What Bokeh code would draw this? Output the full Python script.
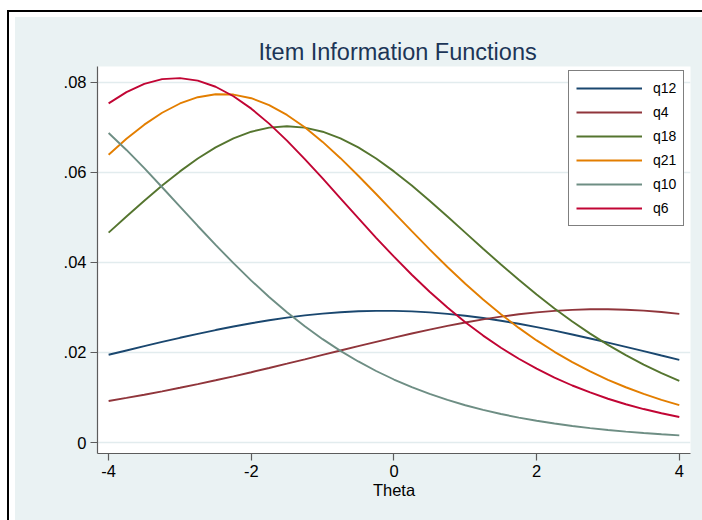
from bokeh.plotting import figure
from bokeh.models import FixedTicker, Legend, LegendItem, Title, Range1d
from bokeh.embed import file_html
from bokeh.resources import INLINE

# ---- data ----
theta = [-4.0, -3.75, -3.5, -3.25, -3.0, -2.75, -2.5, -2.25, -2.0, -1.75, -1.5, -1.25,
         -1.0, -0.75, -0.5, -0.25, 0.0, 0.25, 0.5, 0.75, 1.0, 1.25, 1.5, 1.75,
         2.0, 2.25, 2.5, 2.75, 3.0, 3.25, 3.5, 3.75, 4.0]

q12 = [0.01948, 0.02044, 0.02139, 0.02233, 0.02325, 0.02413, 0.02497, 0.02576, 0.02649, 0.02714,
       0.02773, 0.02822, 0.02862, 0.02893, 0.02913, 0.02923, 0.02922, 0.02911, 0.02889, 0.02857,
       0.02815, 0.02764, 0.02704, 0.02637, 0.02563, 0.02484, 0.02399, 0.02310, 0.02218, 0.02124,
       0.02029, 0.01932, 0.01836]
q4 = [0.00922, 0.00990, 0.01061, 0.01136, 0.01215, 0.01297, 0.01382, 0.01470, 0.01561, 0.01655,
      0.01750, 0.01847, 0.01945, 0.02043, 0.02140, 0.02236, 0.02330, 0.02421, 0.02508, 0.02589,
      0.02665, 0.02734, 0.02795, 0.02847, 0.02890, 0.02923, 0.02946, 0.02958, 0.02959, 0.02949,
      0.02929, 0.02898, 0.02857]
q18 = [0.04660, 0.05017, 0.05368, 0.05705, 0.06020, 0.06305, 0.06552, 0.06752, 0.06901, 0.06992,
       0.07023, 0.06992, 0.06901, 0.06752, 0.06552, 0.06305, 0.06020, 0.05705, 0.05368, 0.05017,
       0.04660, 0.04303, 0.03952, 0.03612, 0.03286, 0.02977, 0.02688, 0.02418, 0.02169, 0.01940,
       0.01731, 0.01542, 0.01370]
q21 = [0.06388, 0.06743, 0.07058, 0.07322, 0.07528, 0.07667, 0.07734, 0.07726, 0.07645, 0.07492,
       0.07274, 0.06998, 0.06675, 0.06313, 0.05924, 0.05518, 0.05105, 0.04692, 0.04288, 0.03897,
       0.03525, 0.03175, 0.02848, 0.02545, 0.02267, 0.02014, 0.01785, 0.01578, 0.01393, 0.01227,
       0.01079, 0.00948, 0.00832]
q10 = [0.06871, 0.06496, 0.06091, 0.05668, 0.05238, 0.04808, 0.04388, 0.03982, 0.03595, 0.03232,
       0.02894, 0.02581, 0.02295, 0.02035, 0.01800, 0.01588, 0.01399, 0.01230, 0.01079, 0.00946,
       0.00828, 0.00725, 0.00633, 0.00553, 0.00482, 0.00421, 0.00367, 0.00319, 0.00278, 0.00242,
       0.00211, 0.00183, 0.00159]
q6 = [0.07530, 0.07781, 0.07963, 0.08068, 0.08092, 0.08035, 0.07899, 0.07689, 0.07413, 0.07081,
      0.06704, 0.06294, 0.05863, 0.05422, 0.04980, 0.04545, 0.04126, 0.03725, 0.03348, 0.02996,
      0.02672, 0.02374, 0.02104, 0.01859, 0.01639, 0.01442, 0.01266, 0.01111, 0.00972, 0.00850,
      0.00743, 0.00649, 0.00566]

series_names = ["q12", "q4", "q18", "q21", "q10", "q6"]
series_values = [q12, q4, q18, q21, q10, q6]

xticks = [-4, -2, 0, 2, 4]
xtick_labels = ["-4", "-2", "0", "2", "4"]
yticks = [0, 0.02, 0.04, 0.06, 0.08]
ytick_labels = ["0", ".02", ".04", ".06", ".08"]

title_text = "Item Information Functions"
xlabel = "Theta"

# ---- styles ----
colors = ["#1A476F", "#90353B", "#55752F", "#E37E00", "#6E8E84", "#C10534"]
BG = "#EAF2F3"
FONT = "Liberation Sans"
AXIS = "#5c5c5c"

p = figure(width=702, height=520, output_backend="svg", toolbar_location=None,
           x_range=Range1d(-4.156, 4.157), y_range=Range1d(-0.00244, 0.08349),
           min_border_left=97, min_border_right=12, min_border_top=66, min_border_bottom=67)

# transparent canvas border so that the element background (white margin,
# black outer rule, light graph region) shows around the plot area
p.border_fill_color = None
p.background_fill_color = "white"
p.outline_line_color = None
p.styles = {
    "background-color": "#ffffff",
    "background-image": ("linear-gradient(#000,#000), linear-gradient(#000,#000), "
                         f"linear-gradient({BG},{BG})"),
    "background-position": "7px 10px, 7px 10px, 15px 17px",
    "background-size": "2px 510px, 695px 2px, 687px 503px",
    "background-repeat": "no-repeat",
}

p.title = Title(text=title_text, align="left", text_font=FONT, text_font_size="23.5px",
                text_font_style="normal", text_color="#1C3557", standoff=4, offset=161)

for ax in (p.xaxis[0], p.yaxis[0]):
    ax.axis_line_color = AXIS
    ax.axis_line_width = 1.2
    ax.major_tick_line_color = AXIS
    ax.major_tick_line_width = 1.2
    ax.major_tick_in = 0
    ax.major_tick_out = 7
    ax.minor_tick_line_color = None
    ax.major_label_text_font = FONT
    ax.major_label_text_font_size = "16.5px"
    ax.major_label_text_color = "black"
    ax.major_label_standoff = 4
    ax.axis_label_text_font = FONT
    ax.axis_label_text_font_size = "16.5px"
    ax.axis_label_text_font_style = "normal"
    ax.axis_label_text_color = "black"

p.xaxis.ticker = FixedTicker(ticks=xticks)
p.xaxis.major_label_overrides = dict(zip(xticks, xtick_labels))
p.yaxis.ticker = FixedTicker(ticks=yticks)
p.yaxis.major_label_overrides = dict(zip(yticks, ytick_labels))
p.xaxis.axis_label = xlabel
p.xaxis.axis_label_standoff = 1

p.xgrid.visible = False
p.ygrid.grid_line_color = "#E2ECEE"
p.ygrid.grid_line_width = 1.3

items = []
for name, vals, c in zip(series_names, series_values, colors):
    r = p.line(theta, vals, line_color=c, line_width=1.9)
    items.append(LegendItem(label=name, renderers=[r]))

legend = Legend(items=items, location=(471, 227), padding=7, spacing=4, margin=0,
                glyph_width=66, glyph_height=20, label_height=20, label_standoff=11,
                label_text_font=FONT, label_text_font_size="14px", label_text_color="black",
                border_line_color="black", border_line_width=1,
                background_fill_color="white", background_fill_alpha=1)
p.add_layout(legend, "center")

open("out.html", "w").write(file_html(p, INLINE))
